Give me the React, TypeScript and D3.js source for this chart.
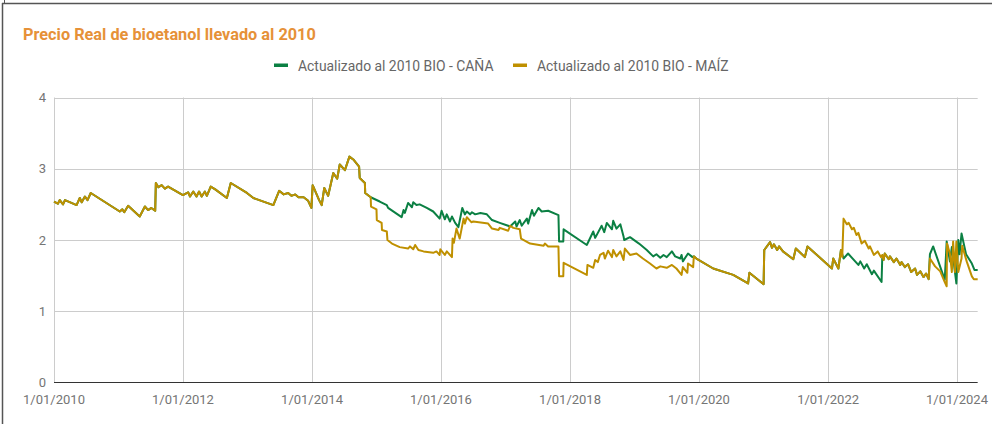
import React from "react";
import * as d3 from "d3";

const TITLE = "Precio Real de bioetanol llevado al 2010";
const SERIES_NAMES = ["Actualizado al 2010 BIO - CAÑA", "Actualizado al 2010 BIO - MAÍZ"];
const SERIES_COLORS = ["#0b8043", "#bf9000"];
const Y_TICKS = [0, 1, 2, 3, 4];
const X_TICK_YEARS = [2010, 2012, 2014, 2016, 2018, 2020, 2022, 2024];

// [decimal year, value]
const tramoComun1: [number, number][] = [
  [2010.0, 2.54], [2010.06, 2.51], [2010.09, 2.56], [2010.14, 2.5], [2010.17, 2.56],
  [2010.27, 2.52], [2010.35, 2.49], [2010.4, 2.59], [2010.43, 2.53], [2010.48, 2.61],
  [2010.52, 2.56], [2010.57, 2.66], [2011.02, 2.4], [2011.06, 2.43], [2011.09, 2.39],
  [2011.15, 2.48], [2011.33, 2.33], [2011.41, 2.47], [2011.46, 2.42], [2011.51, 2.45],
  [2011.57, 2.41], [2011.58, 2.8], [2011.62, 2.74], [2011.67, 2.77], [2011.72, 2.72],
  [2011.77, 2.75], [2012.0, 2.63], [2012.08, 2.67], [2012.11, 2.61], [2012.16, 2.68],
  [2012.21, 2.61], [2012.25, 2.68], [2012.29, 2.61], [2012.34, 2.68], [2012.37, 2.62],
  [2012.43, 2.75], [2012.5, 2.71], [2012.68, 2.59], [2012.74, 2.8], [2012.99, 2.66],
  [2013.09, 2.59], [2013.4, 2.49], [2013.49, 2.69], [2013.56, 2.64], [2013.63, 2.66],
  [2013.68, 2.62], [2013.74, 2.64], [2013.79, 2.6], [2013.87, 2.6], [2013.94, 2.55],
  [2013.99, 2.45], [2014.01, 2.77], [2014.11, 2.56], [2014.15, 2.49], [2014.19, 2.73],
  [2014.25, 2.62], [2014.33, 2.94], [2014.39, 2.86], [2014.43, 3.06], [2014.51, 2.98],
  [2014.58, 3.17], [2014.64, 3.13], [2014.73, 3.03], [2014.74, 2.87], [2014.82, 2.8],
  [2014.825, 2.66], [2014.91, 2.6],
];

const canaTramo2: [number, number][] = [
  [2015.05, 2.54], [2015.16, 2.49], [2015.18, 2.45], [2015.39, 2.32], [2015.42, 2.42],
  [2015.44, 2.38], [2015.49, 2.52], [2015.55, 2.46], [2015.57, 2.53], [2015.62, 2.49],
  [2015.67, 2.5], [2015.78, 2.45], [2015.88, 2.4], [2015.98, 2.3], [2016.01, 2.41],
  [2016.06, 2.29], [2016.09, 2.36], [2016.14, 2.26], [2016.17, 2.33], [2016.22, 2.24],
  [2016.27, 2.18], [2016.33, 2.45], [2016.37, 2.36], [2016.4, 2.4], [2016.45, 2.36],
  [2016.48, 2.39], [2016.53, 2.36], [2016.61, 2.38], [2016.71, 2.36], [2016.79, 2.28],
  [2016.91, 2.24], [2017.07, 2.19], [2017.15, 2.26], [2017.17, 2.19], [2017.22, 2.28],
  [2017.25, 2.2], [2017.33, 2.3], [2017.35, 2.23], [2017.41, 2.42], [2017.44, 2.34],
  [2017.51, 2.45], [2017.56, 2.4], [2017.66, 2.41], [2017.82, 2.35], [2017.83, 1.98],
  [2017.895, 1.98], [2017.9, 2.15], [2018.26, 1.93], [2018.36, 2.12], [2018.39, 2.03],
  [2018.49, 2.2], [2018.53, 2.11], [2018.57, 2.24], [2018.65, 2.15], [2018.67, 2.27],
  [2018.72, 2.16], [2018.78, 2.22], [2018.83, 2.05], [2018.84, 2.0], [2018.93, 2.04],
  [2019.07, 1.95], [2019.19, 1.86], [2019.29, 1.77], [2019.34, 1.8], [2019.4, 1.75],
  [2019.45, 1.79], [2019.5, 1.76], [2019.58, 1.84], [2019.63, 1.77], [2019.71, 1.74],
  [2019.73, 1.79], [2019.75, 1.7], [2019.83, 1.81], [2019.9, 1.76],
];

const maizTramo2: [number, number][] = [
  [2014.915, 2.47], [2015.0, 2.43], [2015.005, 2.28], [2015.08, 2.24], [2015.085, 2.14],
  [2015.16, 2.12], [2015.17, 2.0], [2015.24, 1.95], [2015.36, 1.9], [2015.49, 1.88],
  [2015.52, 1.91], [2015.57, 1.87], [2015.6, 1.93], [2015.65, 1.86], [2015.73, 1.84],
  [2015.88, 1.82], [2015.93, 1.84], [2015.98, 1.79], [2015.99, 1.87], [2016.06, 1.79],
  [2016.09, 1.84], [2016.17, 1.76], [2016.18, 2.02], [2016.2, 1.96], [2016.24, 2.16],
  [2016.29, 2.02], [2016.35, 2.3], [2016.37, 2.23], [2016.4, 2.32], [2016.47, 2.25],
  [2016.5, 2.26], [2016.73, 2.23], [2016.79, 2.16], [2016.89, 2.14], [2016.91, 2.17],
  [2017.04, 2.13], [2017.07, 2.2], [2017.12, 2.17], [2017.22, 2.15], [2017.24, 2.02],
  [2017.38, 1.95], [2017.59, 1.92], [2017.61, 1.95], [2017.66, 1.91], [2017.82, 1.91],
  [2017.83, 1.49], [2017.895, 1.49], [2017.9, 1.68], [2018.26, 1.51], [2018.27, 1.65],
  [2018.36, 1.61], [2018.39, 1.72], [2018.43, 1.69], [2018.465, 1.79], [2018.52, 1.82],
  [2018.54, 1.74], [2018.59, 1.85], [2018.65, 1.76], [2018.67, 1.86], [2018.72, 1.77],
  [2018.78, 1.84], [2018.83, 1.72], [2018.85, 1.88], [2018.93, 1.79], [2019.03, 1.81],
  [2019.13, 1.74], [2019.24, 1.67], [2019.34, 1.6], [2019.4, 1.63], [2019.5, 1.61],
  [2019.58, 1.65], [2019.65, 1.6], [2019.73, 1.51], [2019.75, 1.62], [2019.82, 1.54],
  [2019.83, 1.67], [2019.91, 1.62],
];

const tramoComun2: [number, number][] = [
  [2019.92, 1.77], [2019.96, 1.74], [2020.22, 1.6], [2020.53, 1.51], [2020.76, 1.39],
  [2020.78, 1.54], [2021.0, 1.38], [2021.01, 1.86], [2021.1, 1.97], [2021.13, 1.89],
  [2021.16, 1.94], [2021.21, 1.86], [2021.24, 1.91], [2021.3, 1.84], [2021.46, 1.73],
  [2021.5, 1.88], [2021.64, 1.76], [2021.68, 1.91], [2022.06, 1.6], [2022.08, 1.74],
  [2022.16, 1.6], [2022.2, 1.86],
];

const canaTramo3: [number, number][] = [
  [2022.24, 1.74], [2022.31, 1.81], [2022.47, 1.65], [2022.5, 1.7], [2022.56, 1.6],
  [2022.6, 1.66], [2022.68, 1.52], [2022.71, 1.57], [2022.83, 1.41], [2022.84, 1.74],
];

const maizTramo3: [number, number][] = [
  [2022.22, 1.76], [2022.24, 2.3], [2022.29, 2.22], [2022.32, 2.24], [2022.37, 2.15],
  [2022.4, 2.17], [2022.44, 2.07], [2022.47, 2.1], [2022.52, 1.95], [2022.57, 1.99],
  [2022.63, 1.88], [2022.65, 1.91], [2022.71, 1.79], [2022.77, 1.84], [2022.82, 1.76],
  [2022.84, 1.79],
];

const tramoComun3: [number, number][] = [
  [2022.86, 1.72], [2022.88, 1.81], [2022.94, 1.73], [2022.96, 1.77], [2023.02, 1.69],
  [2023.06, 1.74], [2023.12, 1.65], [2023.14, 1.69], [2023.19, 1.62], [2023.24, 1.66],
  [2023.29, 1.55], [2023.35, 1.6], [2023.38, 1.51], [2023.43, 1.56], [2023.48, 1.48],
  [2023.52, 1.53], [2023.56, 1.45],
];

const canaFinal: [number, number][] = [
  [2023.58, 1.8], [2023.63, 1.91], [2023.81, 1.44], [2023.84, 1.98], [2023.89, 1.7],
  [2023.92, 1.9], [2023.99, 1.39], [2024.02, 2.0], [2024.04, 1.8], [2024.07, 2.09],
  [2024.14, 1.8], [2024.23, 1.67], [2024.27, 1.58], [2024.32, 1.58],
];

const maizFinal: [number, number][] = [
  [2023.58, 1.74], [2023.66, 1.63], [2023.74, 1.56], [2023.81, 1.41], [2023.84, 1.35],
  [2023.845, 1.95], [2023.89, 1.81], [2023.92, 1.55], [2023.94, 1.98], [2023.97, 1.55],
  [2023.99, 1.98], [2024.02, 1.55], [2024.07, 1.74], [2024.08, 1.92], [2024.15, 1.7],
  [2024.23, 1.49], [2024.26, 1.45], [2024.32, 1.45],
];

const cana = [...tramoComun1, ...canaTramo2, ...tramoComun2, ...canaTramo3, ...tramoComun3, ...canaFinal];
const maiz = [...tramoComun1, ...maizTramo2, ...tramoComun2, ...maizTramo3, ...tramoComun3, ...maizFinal];

function toDate(t: number): Date {
  const y = Math.floor(t);
  const s = Date.UTC(y, 0, 1);
  const e = Date.UTC(y + 1, 0, 1);
  return new Date(s + (t - y) * (e - s));
}

export default function App() {
  const W = 992, H = 424;
  const x = d3.scaleUtc().domain([toDate(2010), toDate(2024)]).range([54, 957]);
  const y = d3.scaleLinear().domain([0, 4]).range([382.5, 97.5]);
  const xEnd = x(toDate(2024.32));
  const line = d3.line<[number, number]>().x((d) => x(toDate(d[0]))).y((d) => y(d[1]));
  const font = "Roboto, Arial, sans-serif";
  const fmt = (yr: number) => `1/01/${yr}`;

  return (
    <div style={{ position: "absolute", left: 0, top: 0, width: W, height: H, background: "#fff" }}>
      <svg width={W} height={H} style={{ display: "block" }}>
        <rect x={0} y={0} width={W} height={H} fill="#fff" />
        {/* card border */}
        <line x1={2} x2={W} y1={3.5} y2={3.5} stroke="#555" strokeWidth={1.5} />
        <line x1={2.5} x2={2.5} y1={3} y2={H} stroke="#555" strokeWidth={1.5} />
        <line x1={4.5} x2={4.5} y1={0} y2={3} stroke="#555" strokeWidth={1} />
        <text x={23} y={39.5} fill="#e69138" fontFamily={font} fontSize={16.3} fontWeight={700}>{TITLE}</text>
        {/* legend */}
        {SERIES_NAMES.map((n, i) => {
          const lx = i === 0 ? 274 : 513;
          return (
            <g key={n}>
              <rect x={lx} y={63.5} width={14} height={3.5} fill={SERIES_COLORS[i]} />
              <text x={lx + 24} y={71} fill="#666" fontFamily={font} fontSize={13.9}>{n}</text>
            </g>
          );
        })}
        {/* grid */}
        {Y_TICKS.filter((t) => t > 0).map((t) => (
          <line key={"h" + t} x1={54} x2={xEnd} y1={Math.round(y(t)) + 0.5} y2={Math.round(y(t)) + 0.5} stroke="#cccccc" />
        ))}
        {X_TICK_YEARS.map((yr) => {
          const xx = Math.round(x(toDate(yr))) + 0.5;
          return <line key={"v" + yr} x1={xx} x2={xx} y1={y(4)} y2={y(0)} stroke="#cccccc" />;
        })}
        {Y_TICKS.map((t) => (
          <text key={"yl" + t} x={46} y={y(t) + 4.5} textAnchor="end" fill="#757575" fontFamily={font} fontSize={13}>{t}</text>
        ))}
        {X_TICK_YEARS.map((yr) => (
          <text key={"xl" + yr} x={x(toDate(yr))} y={403.5} textAnchor="middle" fill="#757575" fontFamily={font} fontSize={13}>{fmt(yr)}</text>
        ))}
        <path d={line(cana) || ""} fill="none" stroke={SERIES_COLORS[0]} strokeWidth={2} strokeLinejoin="round" />
        <path d={line(maiz) || ""} fill="none" stroke={SERIES_COLORS[1]} strokeWidth={2} strokeLinejoin="round" />
        <line x1={54} x2={xEnd} y1={382.5} y2={382.5} stroke="#333" strokeWidth={1} />
      </svg>
    </div>
  );
}
